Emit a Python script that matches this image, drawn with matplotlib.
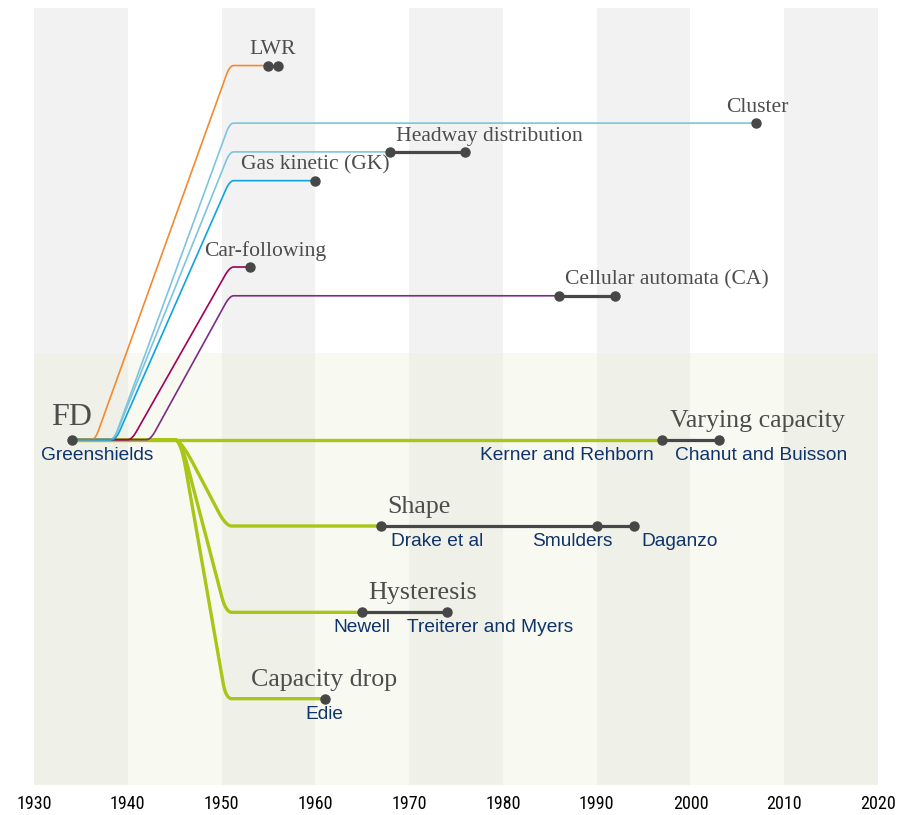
import numpy as np
import matplotlib.pyplot as plt
from matplotlib.font_manager import fontManager

# model families that branch off the fundamental diagram (upper part)
model_names = ["LWR", "Cluster", "Headway distribution", "Gas kinetic (GK)",
               "Car-following", "Cellular automata (CA)"]
model_rows = [13, 11, 10, 9, 6, 5]
model_branch = [1936.1, 1938.1, 1938.1, 1938.3, 1940.0, 1942.0]
model_years = [[1955, 1956], [2007], [1968, 1976], [1960], [1953], [1986, 1992]]
model_colors = ["#f28a30", "#7ec4df", "#7ec4df", "#0ea5da", "#a0005a", "#7b2c84"]

# features of the FD itself (lower part)
fd_year = 1934
fd_author = "Greenshields"
feature_names = ["Varying capacity", "Shape", "Hysteresis", "Capacity drop"]
feature_rows = [0, -3, -6, -9]
feature_years = [[1997, 2003], [1967, 1990, 1994], [1965, 1974], [1961]]
feature_authors = [["Kerner and Rehborn", "Chanut and Buisson"],
                   ["Drake et al", "Smulders", "Daganzo"],
                   ["Newell", "Treiterer and Myers"],
                   ["Edie"]]
feature_branch = 1945.0
join_year = 1951.0

# where the labels sit (years)
model_label_x = [1955.4, 2007.1, 1978.6, 1960.0, 1954.7, 1997.5]
feature_label_x = [2007.1, 1971.0, 1971.4, 1960.9]
author_label_x = [[1986.8, 2007.5], [1973.0, 1987.4, 1998.8], [1965.0, 1978.6], [1961.0]]
fd_author_x = 1936.7

decades = np.arange(1930, 2030, 10)

green = "#a9c515"
dot_gray = "#474747"
label_gray = "#4d4d4d"
navy = "#0f336b"
serif = ["Liberation Serif", "DejaVu Serif"]
sans = ["Liberation Sans", "DejaVu Sans"]

# narrow font for the year axis if there is one
installed = {f.name for f in fontManager.ttflist}
narrow = [n for n in ["Liberation Sans Narrow", "Roboto Condensed", "Open Sans Condensed"]
          if n in installed]

fig = plt.figure(figsize=(9.05, 8.15), dpi=100)
ax = fig.add_axes([34 / 905, 30 / 815, 844 / 905, 777 / 815])
ax.set_xlim(1930, 2020)
ax.set_ylim(-12, 15)

# background stripes
for i, d in enumerate(decades[:-1]):
    dark = i % 2 == 0
    ax.fill_between([d, d + 10], 3, 15, color="#f2f2f2" if dark else "white", lw=0, zorder=0)
    ax.fill_between([d, d + 10], -12, 3, color="#eff0e7" if dark else "#f8f9f1", lw=0, zorder=0)


def branch(x_from, x_leave, x_join, x_to, row, rh, rd_top, rd_bot):
    # riser with rounded corners, built in pixel space
    to_px = ax.transData.transform
    a = to_px((x_leave, 0))
    d = to_px((x_join, row))
    v1 = a + np.array([rh, 0])
    v2 = d - np.array([rh, 0])
    u = (v2 - v1) / np.hypot(*(v2 - v1))
    b = v1 + rd_top * u
    c = v2 - rd_bot * u
    t = np.linspace(0, 1, 40)[:, None]
    q1 = (1 - t) ** 2 * a + 2 * (1 - t) * t * v1 + t ** 2 * b
    q2 = (1 - t) ** 2 * c + 2 * (1 - t) * t * v2 + t ** 2 * d
    pts = np.vstack([to_px((x_from, 0)), q1, q2, to_px((x_to, row))])
    return ax.transData.inverted().transform(pts)


# FD trunk and its feature branches
ax.plot([fd_year, feature_years[0][0]], [0, 0], color=green, lw=2.4, zorder=2,
        solid_capstyle="butt")
for row, years in zip(feature_rows[1:], feature_years[1:]):
    p = branch(fd_year, feature_branch, join_year + 0.1, years[0], row, 6, 30, 16)
    ax.plot(p[:, 0], p[:, 1], color=green, lw=2.4, zorder=2)

# model branches, drawn so the blue one ends up on top
for k in [5, 4, 1, 2, 0, 3]:
    p = branch(fd_year, model_branch[k], join_year + 0.3, model_years[k][0],
               model_rows[k], 4, 10, 10)
    ax.plot(p[:, 0], p[:, 1], color=model_colors[k], lw=1.2, zorder=3)

# gray spans and dots
for rows, years_list in [(model_rows, model_years), (feature_rows, feature_years)]:
    for row, years in zip(rows, years_list):
        ax.plot(years, [row] * len(years), color=dot_gray, lw=2.3, zorder=4)
        ax.plot(years, [row] * len(years), "o", color=dot_gray, ms=6.5, zorder=5)
ax.plot([fd_year], [0], "o", color=dot_gray, ms=6.5, zorder=5)

# labels
for name, lx, row in zip(model_names, model_label_x, model_rows):
    ax.annotate(name, (lx, row), xytext=(0, 8), textcoords="offset points",
                ha="center", va="baseline", fontsize=15.6, family=serif, color=label_gray)
for name, lx, row in zip(feature_names, feature_label_x, feature_rows):
    ax.annotate(name, (lx, row), xytext=(0, 9.4), textcoords="offset points",
                ha="center", va="baseline", fontsize=18.7, family=serif, color=label_gray)
ax.annotate("FD", (fd_year, 0), xytext=(0, 10.8), textcoords="offset points",
            ha="center", va="baseline", fontsize=23, family=serif, color=label_gray)

for names, xs, row in zip(feature_authors, author_label_x, feature_rows):
    for name, lx in zip(names, xs):
        ax.annotate(name, (lx, row), xytext=(0, -5), textcoords="offset points",
                    ha="center", va="top", fontsize=13.8, family=sans, color=navy)
ax.annotate(fd_author, (fd_author_x, 0), xytext=(0, -5), textcoords="offset points",
            ha="center", va="top", fontsize=13.8, family=sans, color=navy)

ax.set_xticks(decades)
if narrow:
    ax.set_xticklabels([str(d) for d in decades], family=narrow[0], fontsize=13)
else:
    ax.set_xticklabels([str(d) for d in decades], family="DejaVu Sans",
                       stretch="condensed", fontsize=12)
ax.tick_params(axis="x", length=0, pad=7.5)
ax.set_yticks([])
for s in ax.spines.values():
    s.set_visible(False)

fig.savefig("out.png", dpi=100)
